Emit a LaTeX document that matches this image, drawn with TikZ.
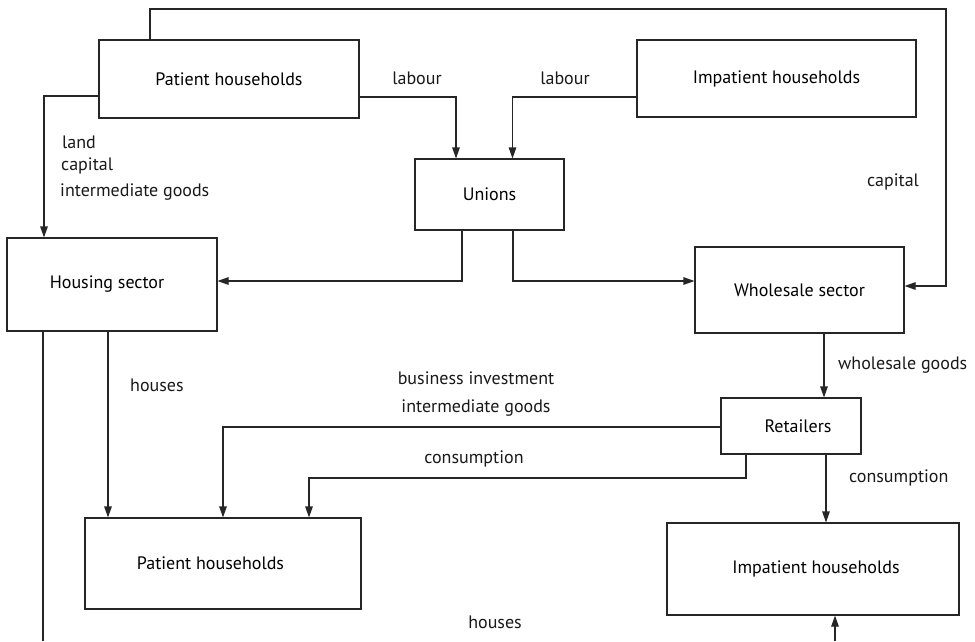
\documentclass[tikz,border=0pt]{standalone}
\usepackage{fontspec}
\setmainfont{PT Sans}
\usetikzlibrary{arrows.meta}
\begin{document}
\begin{tikzpicture}[x=1pt,y=-1pt,
  box/.style={draw=black!85, line width=1.1pt, inner sep=0pt, align=center},
  conn/.style={draw=black!85, line width=1.1pt},
  arr/.style={conn, -{Triangle[length=11pt,width=7.5pt]}},
  lbl/.style={inner sep=0pt, text=black!90},
  every node/.style={font=\fontsize{18}{20}\selectfont}]
\useasboundingbox (0,0) rectangle (975,641);
% boxes
\node[box, minimum width=260pt, minimum height=78pt] (ph1) at (229,79) {Patient households};
\node[box, minimum width=279pt, minimum height=77pt] (ih1) at (776.5,78.5) {Impatient households};
\node[box, minimum width=149pt, minimum height=71pt] (un) at (489.5,194.5) {Unions};
\node[box, minimum width=210pt, minimum height=93pt] (hs) at (112,284.5) {Housing sector\hspace*{10pt}};
\node[box, minimum width=209pt, minimum height=86pt] (ws) at (799.5,290) {Wholesale sector};
\node[box, minimum width=140pt, minimum height=56pt] (rt) at (791,426) {\hspace*{14pt}Retailers};
\node[box, minimum width=276pt, minimum height=91pt] (ph2) at (223,563.5) {Patient households\hspace*{25pt}};
\node[box, minimum width=292pt, minimum height=92pt] (ih2) at (813,569) {\hspace*{6pt}Impatient households};
% free ends
\coordinate (t2) at (946,9);
\coordinate (k) at (309,478);
\coordinate (cb1) at (43,641);
\coordinate (cb2) at (835,641);
% connectors
\draw[arr] ([xshift=-79pt]ph1.north) |- (t2) |- ([yshift=4pt]ws.east);
\draw[arr] ([yshift=-18pt]ph1.east) -| ([xshift=-33.5pt]un.north);
\draw[arr] ([yshift=-18.5pt]ih1.west) -| ([xshift=23pt]un.north);
\draw[arr] ([yshift=-17pt]ph1.west) -| ([xshift=-68pt]hs.north);
\draw[arr] ([xshift=-27.5pt]un.south) |- ([yshift=3.5pt]hs.east);
\draw[arr] ([xshift=23.5pt]un.south) |- ([yshift=9pt]ws.west);
\draw[arr] ([xshift=-4pt]hs.south) -- ([xshift=-115pt]ph2.north);
\draw[conn] ([xshift=-69pt]hs.south) -- (cb1);
\draw[arr] (cb2) -- ([xshift=22pt]ih2.south);
\draw[arr] ([xshift=24.5pt]ws.south) -- ([xshift=33pt]rt.north);
\draw[arr] ([yshift=-1pt]rt.west) -| (ph2.north);
\draw[arr] ([xshift=-45pt]rt.south) |- (k) -- (ph2.north -| k);
\draw[arr] ([xshift=35pt]rt.south) -- ([xshift=13pt]ih2.north);
% labels
\node[lbl] (l1) at (417,78) {labour};
\node[lbl] (l2) at (565,78) {labour};
\node[lbl, anchor=west] (l3) at (62,142) {land};
\node[lbl, anchor=west] (l4) at (61,166) {capital};
\node[lbl, anchor=west] (l5) at (60,192) {intermediate goods};
\node[lbl] (l6) at (893,182) {capital};
\node[lbl, anchor=west] (l7) at (130,385) {houses};
\node[lbl] (l8) at (476,378) {business investment};
\node[lbl] (l9) at (476,408) {intermediate goods};
\node[lbl] (l10) at (474,459) {consumption};
\node[lbl, anchor=west] (l11) at (838,365) {wholesale goods};
\node[lbl, anchor=west] (l12) at (849,478) {consumption};
\node[lbl] (l13) at (495,622) {houses};
\end{tikzpicture}
\end{document}
